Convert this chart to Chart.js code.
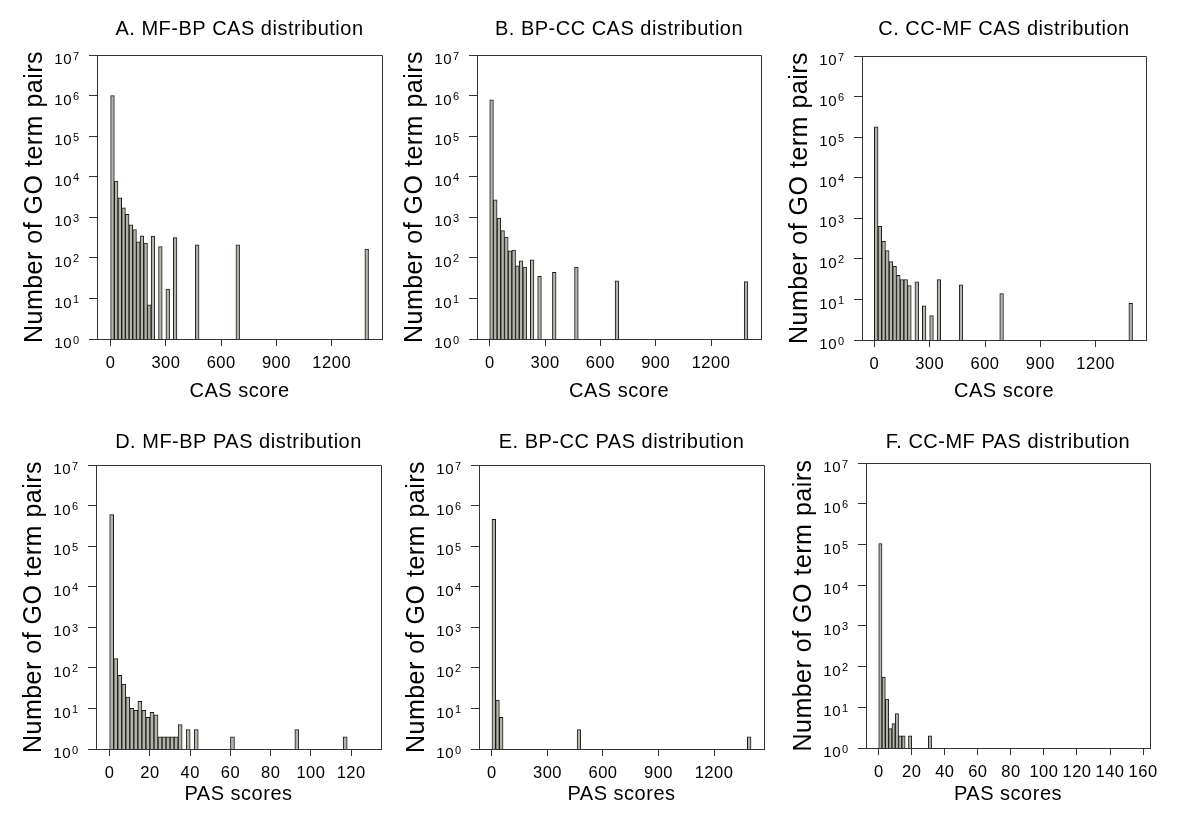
<!DOCTYPE html>
<html>
<head>
<meta charset="utf-8">
<script src="https://cdn.jsdelivr.net/npm/chart.js@4"></script>
<style>
  html, body { margin: 0; padding: 0; background: #fff; }
  body { width: 1200px; height: 821px; position: relative; overflow: hidden; }
  canvas { position: absolute; }
</style>
</head>
<body>
<script>
// bin centres and counts
var casMfBpScore = [10, 30, 50, 70, 90, 110, 130, 150, 170, 190, 210, 230, 270, 310, 350, 470, 690, 1390];
var casMfBpCount = [1000000, 7800, 3000, 1700, 1180, 650, 500, 250, 350, 230, 7, 345, 190, 17, 315, 210, 210, 165];

var casBpCcScore = [10, 30, 50, 70, 90, 110, 130, 150, 170, 190, 230, 270, 350, 470, 690, 1390];
var casBpCcCount = [780000, 2700, 960, 470, 325, 148, 156, 64, 84, 59, 90, 35, 44, 59, 27, 26];

var casCcMfScore = [10, 30, 50, 70, 90, 110, 130, 150, 170, 190, 230, 270, 310, 350, 470, 690, 1390];
var casCcMfCount = [180000, 630, 270, 160, 86, 65, 39, 31, 31, 22, 27, 7, 4, 31, 23, 14, 8];

var pasMfBpScore = [1, 3, 5, 7, 9, 11, 13, 15, 17, 19, 21, 23, 25, 27, 29, 31, 33, 35, 39, 43, 61, 93, 117];
var pasMfBpCount = [600000, 170, 65, 40, 19, 10, 9, 15, 9, 6, 8, 7, 2, 2, 2, 2, 2, 4, 3, 3, 2, 3, 2];

var pasBpCcScore = [10, 30, 50, 470, 1390];
var pasBpCcCount = [460000, 16, 6, 3, 2];

var pasCcMfScore = [1, 3, 5, 7, 9, 11, 13, 15, 19, 31];
var pasCcMfCount = [105000, 55, 16, 3, 4, 7, 2, 2, 2, 2];

var casTicks = [0, 300, 600, 900, 1200];
var pasTicksD = [0, 20, 40, 60, 80, 100, 120];
var pasTicksF = [0, 20, 40, 60, 80, 100, 120, 140, 160];
var yTicks = [1, 10, 100, 1000, 10000, 100000, 1000000, 10000000];

var FONT = 'Arial, "Liberation Sans", sans-serif';
Chart.defaults.font.family = FONT;
Chart.defaults.color = '#000';

// layout of the 2x3 grid
var rows = [
  { top: 0, titleMid: 29.3, xTitleMid: 391.6 },
  { top: 405, titleMid: 442.3, xTitleMid: 794.8 }
];

var panels = [
  { title: 'A. MF-BP CAS distribution', xTitle: 'CAS score', xs: casMfBpScore, ys: casMfBpCount, ticks: casTicks, min: -74, max: 1473, box: [97, 55, 382, 339], row: 0 },
  { title: 'B. BP-CC CAS distribution', xTitle: 'CAS score', xs: casBpCcScore, ys: casBpCcCount, ticks: casTicks, min: -69, max: 1471, box: [477, 55, 761, 339], row: 0 },
  { title: 'C. CC-MF CAS distribution', xTitle: 'CAS score', xs: casCcMfScore, ys: casCcMfCount, ticks: casTicks, min: -67, max: 1473, box: [862, 56, 1146, 340], row: 0 },
  { title: 'D. MF-BP PAS distribution', xTitle: 'PAS scores', xs: pasMfBpScore, ys: pasMfBpCount, ticks: pasTicksD, min: -6.8, max: 134.8, box: [96, 465, 381, 749], row: 1 },
  { title: 'E. BP-CC PAS distribution', xTitle: 'PAS scores', xs: pasBpCcScore, ys: pasBpCcCount, ticks: casTicks, min: -70, max: 1470, box: [479, 465, 764, 749], row: 1 },
  { title: 'F. CC-MF PAS distribution', xTitle: 'PAS scores', xs: pasCcMfScore, ys: pasCcMfCount, ticks: pasTicksF, min: -7.7, max: 164.2, box: [866, 463, 1150, 748], row: 1 }
];

var spacing = {
  id: 'spacing',
  beforeDraw: function(chart) { chart.ctx.letterSpacing = '0.5px'; }
};

// top and right sides of the box
var frame = {
  id: 'frame',
  afterDraw: function(chart) {
    var a = chart.chartArea, ctx = chart.ctx;
    var t = Math.round(a.top) + 0.5, r = Math.round(a.right - 0.5) + 0.5;
    ctx.save();
    ctx.strokeStyle = '#333';
    ctx.lineWidth = 1;
    ctx.beginPath();
    ctx.moveTo(a.left, t);
    ctx.lineTo(r, t);
    ctx.lineTo(r, a.bottom);
    ctx.stroke();
    ctx.restore();
  }
};

// 10^n labels with a raised exponent
var expLabels = {
  id: 'expLabels',
  afterDraw: function(chart) {
    var s = chart.scales.y, ctx = chart.ctx, x = chart.chartArea.left;
    ctx.save();
    ctx.fillStyle = '#000';
    ctx.textAlign = 'right';
    ctx.textBaseline = 'alphabetic';
    s.ticks.forEach(function(t) {
      var y = s.getPixelForValue(t.value);
      var e = String(Math.round(Math.log10(t.value)));
      ctx.font = '11px ' + FONT;
      ctx.fillText(e, x - 17.5, y + 4.5);
      ctx.font = '15px ' + FONT;
      ctx.fillText('10', x - 25, y + 9.2);
    });
    ctx.restore();
  }
};

panels.forEach(function(p) {
  var L = p.box[0], T = p.box[1], R = p.box[2], B = p.box[3];
  var r = rows[p.row];
  var cl = L - 97, ct = r.top;
  var cv = document.createElement('canvas');
  cv.width = (R - L) + 97 + 25;
  cv.height = (B - ct) + 70;
  cv.style.left = cl + 'px';
  cv.style.top = ct + 'px';
  document.body.appendChild(cv);

  new Chart(cv.getContext('2d'), {
    type: 'bar',
    data: {
      datasets: [{
        data: p.xs.map(function(v, i) { return { x: v, y: p.ys[i] }; }),
        backgroundColor: '#b4b4aa',
        borderColor: '#1a1a1a',
        borderWidth: 1,
        barPercentage: 1,
        categoryPercentage: 1
      }]
    },
    options: {
      responsive: false,
      animation: false,
      devicePixelRatio: 1,
      layout: { padding: { left: 0, right: 25, top: 0, bottom: 0 } },
      plugins: {
        legend: { display: false },
        tooltip: { enabled: false },
        title: {
          display: true,
          text: p.title,
          fullSize: false,
          color: '#000',
          font: { size: 20, weight: 'normal' },
          padding: { top: r.titleMid - ct - 12, bottom: T - r.titleMid - 12 }
        }
      },
      scales: {
        x: {
          type: 'linear',
          min: p.min,
          max: p.max,
          offset: false,
          afterBuildTicks: function(s) { s.ticks = p.ticks.map(function(v) { return { value: v }; }); },
          afterFit: function(s) { s.height = 70; },
          grid: { offset: false, drawOnChartArea: false, drawTicks: true, tickLength: 7, color: '#333', lineWidth: 1 },
          border: { display: true, color: '#333', width: 1, z: 1 },
          ticks: {
            autoSkip: false, maxRotation: 0, minRotation: 0, padding: 7.5,
            color: '#000', font: { size: 16.5 },
            callback: function(v) { return String(v); }
          },
          title: {
            display: true, text: p.xTitle, color: '#000',
            font: { size: 20 },
            padding: { top: 0, bottom: B + 70 - 12 - r.xTitleMid }
          }
        },
        y: {
          type: 'logarithmic',
          min: 1,
          max: 10000000,
          afterBuildTicks: function(s) { s.ticks = yTicks.map(function(v) { return { value: v }; }); },
          afterFit: function(s) { s.width = 97; },
          grid: { drawOnChartArea: false, drawTicks: true, tickLength: 8, color: '#333', lineWidth: 1 },
          border: { display: true, color: '#333', width: 1, z: 1 },
          ticks: { padding: 0, callback: function() { return ''; } },
          title: {
            display: true, text: 'Number of GO term pairs', color: '#000',
            font: { size: 25 },
            padding: { top: 20, bottom: 0 }
          }
        }
      }
    },
    plugins: [spacing, frame, expLabels]
  });
});
</script>
</body>
</html>
